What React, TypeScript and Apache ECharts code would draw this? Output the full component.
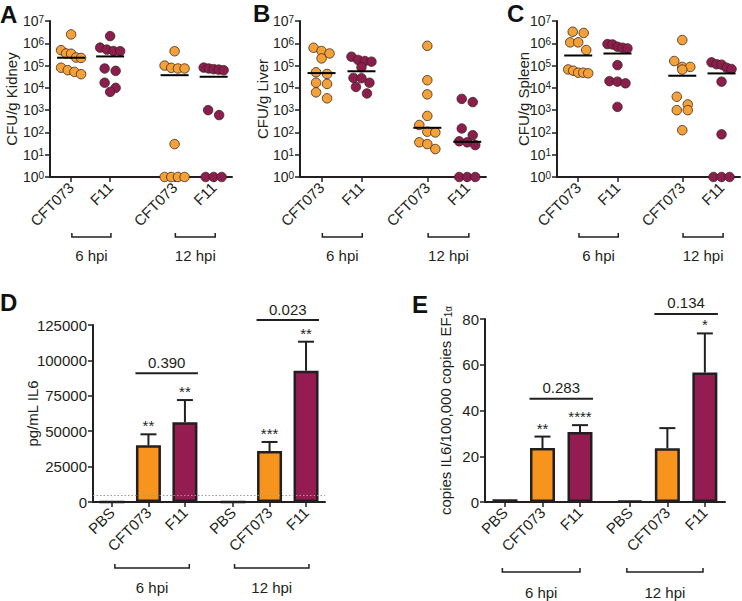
import React, { useEffect, useRef } from 'react';
import * as echarts from 'echarts';

const FONT = '"Liberation Sans", Arial, Helvetica, sans-serif';
const INK = '#231f20';
const ORANGE_DOT = '#f4a13a';
const PURPLE_DOT = '#8c1d4f';
const ORANGE_BAR = '#f7941e';
const PURPLE_BAR = '#941c51';

// ---------- Panels A–C: CFU per gram of tissue (log scale) ----------
const dotStrains = ['CFT073', 'F11', 'CFT073', 'F11'];
const timepoints = ['6 hpi', '12 hpi'];

const kidneyCFT073_6h = [2.5e6, 4.9e5, 3.5e5, 3.4e5, 2.3e5, 2.2e5, 8.0e4, 6.2e4, 5.2e4, 4.1e4];
const kidneyF11_6h = [2.1e6, 6.4e5, 5.2e5, 4.5e5, 4.4e5, 7.4e4, 5.8e4, 1.7e4, 1.0e4, 6.6e3];
const kidneyCFT073_12h = [4.4e5, 1.0e5, 7.9e4, 7.4e4, 7.4e4, 30, 1, 1, 1, 1];
const kidneyF11_12h = [8.1e4, 7.4e4, 6.9e4, 6.6e4, 6.2e4, 1000, 600, 1, 1, 1];

const liverCFT073_6h = [6.3e5, 4.5e5, 3.5e5, 2.1e5, 5.0e4, 4.2e4, 1.7e4, 1.5e4, 6.3e3, 3.4e3];
const liverF11_6h = [2.5e5, 1.8e5, 1.6e5, 1.5e5, 8.3e4, 2.8e4, 2.7e4, 1.7e4, 1.1e4, 5.6e3];
const liverCFT073_12h = [7.7e5, 2.2e4, 5.1e3, 550, 215, 108, 100, 36, 30, 18];
const liverF11_12h = [3.2e3, 2.3e3, 150, 75, 40, 36, 27, 1, 1, 1];

const spleenCFT073_6h = [3.3e6, 2.9e6, 1.1e6, 1.1e6, 5.0e5, 6.7e4, 5.9e4, 4.8e4, 4.8e4, 4.5e4];
const spleenF11_6h = [9.2e5, 8.9e5, 7.0e5, 6.3e5, 5.9e5, 1.05e5, 2.0e4, 1.9e4, 1.6e4, 1.4e3];
const spleenCFT073_12h = [1.4e6, 1.6e5, 8.7e4, 8.7e4, 6.6e4, 4.0e3, 1.8e3, 1.0e3, 1.0e3, 126];
const spleenF11_12h = [1.4e5, 1.15e5, 1.1e5, 8.0e4, 7.0e4, 1.9e4, 82, 1, 1, 1];

// ---------- Panel D: IL6 protein ----------
const barCategories = ['PBS', 'CFT073', 'F11', 'PBS', 'CFT073', 'F11'];
const il6Mean = [0, 40000, 56300, 0, 36000, 92700];
const il6ErrTop = [0, 47800, 72000, 0, 42400, 113200];
const il6Stars = ['', '**', '**', '', '***', '**'];
const il6CompHeights = [91000, 128500];
const il6CompP = ['0.390', '0.023'];
const il6DetectionLimit = 5000;

// ---------- Panel E: IL6 transcripts ----------
const efMean = [1.2, 23.6, 30.6, 0.5, 23.5, 56.6];
const efErrTop = [1.2, 28.6, 33.6, 0.5, 32.3, 73.7];
const efStars = ['', '**', '****', '', '', '*'];
const efCompHeights = [45.1, 82.2];
const efCompP = ['0.283', '0.134'];

const comparisonPairs = [[1, 2], [4, 5]];

// ---------- layout ----------
const DOT_POS = [0, 1, 2.65, 3.65];
const DOT_X = [-0.54, 4.12];
const DOT_GROUP_SPANS = [[0.02, 1.02], [2.67, 3.69]];
const DECADE_PX = 22.3;

const D_POS = [0, 1, 2, 3.32, 4.32, 5.32];
const D_X = [-0.52, 5.84];
const D_GROUP_SPANS = [[0.08, 2.12], [3.36, 5.4]];
const E_POS = [0, 1, 2, 3.33, 4.33, 5.33];
const E_X = [-0.533, 5.867];
const E_GROUP_SPANS = [[-0.07, 2.0], [3.25, 5.28]];

function median(a: number[]) {
  const s = [...a].sort((x, y) => x - y);
  const n = s.length;
  return n % 2 ? s[(n - 1) / 2] : (s[n / 2 - 1] + s[n / 2]) / 2;
}

function swarmOffsets(values: number[], pxPerX: number): number[] {
  const order = values.map((_, i) => i).sort((a, b) => values[b] - values[a]);
  const out = values.map(() => 0);
  const rows: number[][] = [];
  let startY = Infinity;
  for (const i of order) {
    const y = Math.log10(values[i]) * DECADE_PX;
    if (rows.length && startY - y < 8) rows[rows.length - 1].push(i);
    else {
      rows.push([i]);
      startY = y;
    }
  }
  rows.forEach((row) => {
    const n = row.length;
    const sp = n <= 2 ? 11 : Math.min(8, 20 / (n - 1));
    row.forEach((id, k) => {
      out[id] = ((k - (n - 1) / 2) * sp) / pxPerX;
    });
  });
  return out;
}

function labelAt(positions: number[], names: string[]) {
  return (v: number) => {
    for (let i = 0; i < positions.length; i++) if (Math.abs(positions[i] - v) < 1e-6) return names[i];
    return '';
  };
}

function txt(x: number, y: number, text: string, extra: any = {}) {
  return {
    type: 'text',
    x,
    y,
    style: {
      text,
      fill: INK,
      fontSize: 15,
      fontFamily: FONT,
      align: 'center',
      verticalAlign: 'middle',
      ...extra,
    },
  };
}

function groupBracketSeries(idx: number, spans: number[][], base: number, lineOff: number, textOff: number) {
  return {
    type: 'custom',
    xAxisIndex: idx,
    yAxisIndex: idx,
    clip: false,
    silent: true,
    z: 5,
    data: spans.map((s) => [s[0], base, s[1]]),
    renderItem: (params: any, api: any) => {
      const a = api.coord([api.value(0), api.value(1)]);
      const b = api.coord([api.value(2), api.value(1)]);
      const y = a[1] + lineOff;
      return {
        type: 'group',
        children: [
          {
            type: 'polyline',
            shape: { points: [[a[0], y - 4], [a[0], y], [b[0], y], [b[0], y - 4]] },
            style: { stroke: INK, lineWidth: 1.5, fill: null },
          },
          txt((a[0] + b[0]) / 2, y + textOff, timepoints[params.dataIndex]),
        ],
      };
    },
  };
}

const dotPanels = [
  { letter: 'A', yName: 'CFU/g Kidney', nameGap: 31, grid: { left: 50, top: 21, width: 182, height: 156 }, groups: [kidneyCFT073_6h, kidneyF11_6h, kidneyCFT073_12h, kidneyF11_12h], lx: 0, ly: 14 },
  { letter: 'B', yName: 'CFU/g Liver', nameGap: 30, grid: { left: 300, top: 21, width: 186, height: 156 }, groups: [liverCFT073_6h, liverF11_6h, liverCFT073_12h, liverF11_12h], lx: 253, ly: 13 },
  { letter: 'C', yName: 'CFU/g Spleen', nameGap: 26, grid: { left: 557, top: 21, width: 183, height: 156 }, groups: [spleenCFT073_6h, spleenF11_6h, spleenCFT073_12h, spleenF11_12h], lx: 507, ly: 13 },
];

function axisCommon() {
  return {
    axisLine: { show: true, onZero: false, lineStyle: { color: INK, width: 2 } },
    axisTick: { show: true, inside: false, length: 5, lineStyle: { color: INK, width: 1.5 } },
    splitLine: { show: false },
    minorTick: { show: false },
  };
}

function barPanel(idx: number, pos: number[], xr: number[], grid: any, yMax: number, yInt: number, yName: string, nameGap: number,
  mean: number[], errTop: number[], stars: string[], compH: number[], compP: string[], spans: number[][], lineOff: number, textOff: number,
  nameRich: any, limit: number | null) {
  const xAxis = {
    type: 'value', gridIndex: idx, min: xr[0], max: xr[1],
    ...axisCommon(),
    axisTick: { show: true, length: 5, customValues: pos, lineStyle: { color: INK, width: 1.5 } },
    axisLabel: { customValues: pos, formatter: labelAt(pos, barCategories), rotate: 45, fontSize: 15, color: INK, fontFamily: FONT, margin: 8 },
  };
  const yAxis = {
    type: 'value', gridIndex: idx, min: 0, max: yMax, interval: yInt,
    name: yName, nameLocation: 'middle', nameGap, nameRotate: 90, nameMoveOverlap: false,
    nameTextStyle: { fontSize: 15, color: INK, fontFamily: FONT, rich: nameRich },
    ...axisCommon(),
    axisLabel: { fontSize: 15, color: INK, fontFamily: FONT, margin: 6, formatter: (v: number) => String(v) },
  };
  const colorFor = (i: number) => (barCategories[i] === 'PBS' ? INK : barCategories[i] === 'CFT073' ? ORANGE_BAR : PURPLE_BAR);
  const series: any[] = [];
  series.push({
    type: 'custom', xAxisIndex: idx, yAxisIndex: idx, clip: false, silent: true, z: 2,
    data: mean.map((m, i) => [pos[i], errTop[i], m]).filter((d) => d[1] > d[2]),
    renderItem: (params: any, api: any) => {
      const p0 = api.coord([api.value(0), api.value(2)]);
      const p1 = api.coord([api.value(0), api.value(1)]);
      return {
        type: 'group',
        children: [
          { type: 'line', shape: { x1: p0[0], y1: p0[1], x2: p1[0], y2: p1[1] }, style: { stroke: INK, lineWidth: 2 } },
          { type: 'line', shape: { x1: p1[0] - 8, y1: p1[1], x2: p1[0] + 8, y2: p1[1] }, style: { stroke: INK, lineWidth: 2 } },
        ],
      };
    },
  });
  const bar: any = {
    type: 'bar', xAxisIndex: idx, yAxisIndex: idx, barWidth: 25, z: 3, silent: true,
    data: mean.map((m, i) => ({ value: [pos[i], m], itemStyle: { color: colorFor(i) } })),
    itemStyle: { borderColor: INK, borderWidth: 2.5 },
  };
  if (limit !== null) {
    bar.markLine = {
      silent: true, symbol: 'none', label: { show: false },
      lineStyle: { type: [1.5, 2], color: '#9a9a9a', width: 1 },
      data: [{ yAxis: limit }],
    };
  }
  series.push(bar);
  const starData = mean.map((m, i) => [pos[i], errTop[i], i]).filter((d) => stars[d[2]] !== '');
  series.push({
    type: 'custom', xAxisIndex: idx, yAxisIndex: idx, clip: false, silent: true, z: 5,
    data: starData,
    renderItem: (params: any, api: any) => {
      const p = api.coord([api.value(0), api.value(1)]);
      return txt(p[0], p[1] - 1, stars[starData[params.dataIndex][2] as number], { verticalAlign: 'bottom' });
    },
  });
  series.push({
    type: 'custom', xAxisIndex: idx, yAxisIndex: idx, clip: false, silent: true, z: 5,
    data: comparisonPairs.map((pr, k) => [pos[pr[0]], compH[k], pos[pr[1]]]),
    renderItem: (params: any, api: any) => {
      const a = api.coord([api.value(0), api.value(1)]);
      const b = api.coord([api.value(2), api.value(1)]);
      return {
        type: 'group',
        children: [
          { type: 'line', shape: { x1: a[0] - 13, y1: a[1], x2: b[0] + 13, y2: b[1] }, style: { stroke: INK, lineWidth: 2 } },
          txt((a[0] + b[0]) / 2, a[1] - 11, compP[params.dataIndex]),
        ],
      };
    },
  });
  series.push(groupBracketSeries(idx, spans, 0, lineOff, textOff));
  return { grid: { ...grid, containLabel: false, outerBoundsMode: 'none' }, xAxis, yAxis, series };
}

function buildOption() {
  const grids: any[] = [];
  const xAxes: any[] = [];
  const yAxes: any[] = [];
  const series: any[] = [];
  const graphics: any[] = [];

  dotPanels.forEach((p, gi) => {
    grids.push({ ...p.grid, containLabel: false, outerBoundsMode: 'none' });
    xAxes.push({
      type: 'value', gridIndex: gi, min: DOT_X[0], max: DOT_X[1],
      ...axisCommon(),
      axisTick: { show: true, length: 5, customValues: DOT_POS, lineStyle: { color: INK, width: 1.5 } },
      axisLabel: { customValues: DOT_POS, formatter: labelAt(DOT_POS, dotStrains), rotate: 45, fontSize: 15, color: INK, fontFamily: FONT, margin: 8 },
    });
    yAxes.push({
      type: 'log', logBase: 10, min: 1, max: 1e7, splitNumber: 7, gridIndex: gi,
      name: p.yName, nameLocation: 'middle', nameGap: p.nameGap, nameRotate: 90, nameMoveOverlap: false,
      nameTextStyle: { fontSize: 15, color: INK, fontFamily: FONT },
      ...axisCommon(),
      axisLabel: {
        margin: 6,
        formatter: (v: number) => `{b|10}{s|${Math.round(Math.log10(v))}}`,
        rich: {
          b: { fontSize: 14, lineHeight: 14, color: INK, fontFamily: FONT, verticalAlign: 'middle' },
          s: { fontSize: 10, lineHeight: 10, color: INK, fontFamily: FONT, verticalAlign: 'top', padding: [0, 0, 12, 0] },
        },
      },
    });
    const pxPerX = p.grid.width / (DOT_X[1] - DOT_X[0]);
    p.groups.forEach((vals, k) => {
      const offs = swarmOffsets(vals, pxPerX);
      series.push({
        type: 'scatter', xAxisIndex: gi, yAxisIndex: gi, silent: true, z: 3,
        symbolSize: 9.5,
        data: vals.map((v, i) => [DOT_POS[k] + offs[i], v]),
        itemStyle: { color: k % 2 === 0 ? ORANGE_DOT : PURPLE_DOT, borderColor: '#3b2418', borderWidth: 0.8, opacity: 1 },
      });
    });
    series.push({
      type: 'custom', xAxisIndex: gi, yAxisIndex: gi, clip: false, silent: true, z: 4,
      data: p.groups.map((vals, k) => [DOT_POS[k], median(vals)]),
      renderItem: (params: any, api: any) => {
        const c = api.coord([api.value(0), api.value(1)]);
        return { type: 'line', shape: { x1: c[0] - 14, y1: c[1], x2: c[0] + 14, y2: c[1] }, style: { stroke: '#000', lineWidth: 2 } };
      },
    });
    series.push(groupBracketSeries(gi, DOT_GROUP_SPANS, 1, 60, 18));
    graphics.push({ type: 'text', x: p.lx, y: p.ly, style: { text: p.letter, fill: '#111', fontSize: 24, fontWeight: 'bold', fontFamily: FONT, align: 'left', verticalAlign: 'middle' } });
  });

  const d = barPanel(3, D_POS, D_X, { left: 93, top: 325, width: 232, height: 177 }, 125000, 25000, 'pg/mL IL6', 53,
    il6Mean, il6ErrTop, il6Stars, il6CompHeights, il6CompP, D_GROUP_SPANS, 66, 19, {}, il6DetectionLimit);
  const e = barPanel(4, E_POS, E_X, { left: 485, top: 319, width: 240, height: 183 }, 80, 20, 'copies IL6/100,000 copies EF{sub|1α}', 32,
    efMean, efErrTop, efStars, efCompHeights, efCompP, E_GROUP_SPANS, 70, 20,
    { sub: { fontSize: 10, color: INK, fontFamily: FONT, verticalAlign: 'bottom', padding: [6, 0, 0, 0] } }, null);
  [d, e].forEach((pn) => {
    grids.push(pn.grid);
    xAxes.push(pn.xAxis);
    yAxes.push(pn.yAxis);
    series.push(...pn.series);
  });
  graphics.push({ type: 'text', x: 0, y: 302, style: { text: 'D', fill: '#111', fontSize: 24, fontWeight: 'bold', fontFamily: FONT, align: 'left', verticalAlign: 'middle' } });
  graphics.push({ type: 'text', x: 412, y: 304, style: { text: 'E', fill: '#111', fontSize: 24, fontWeight: 'bold', fontFamily: FONT, align: 'left', verticalAlign: 'middle' } });

  return {
    animation: false,
    backgroundColor: '#ffffff',
    textStyle: { fontFamily: FONT, color: INK },
    grid: grids,
    xAxis: xAxes,
    yAxis: yAxes,
    series,
    graphic: graphics,
  };
}

export default function App() {
  const ref = useRef<HTMLDivElement>(null);
  useEffect(() => {
    const chart = echarts.init(ref.current as HTMLDivElement, null, { renderer: 'svg' });
    chart.setOption(buildOption() as any);
    return () => chart.dispose();
  }, []);
  return (
    <div
      ref={ref}
      style={{ position: 'absolute', left: 0, top: 0, width: 742, height: 601, background: '#fff' }}
    />
  );
}
